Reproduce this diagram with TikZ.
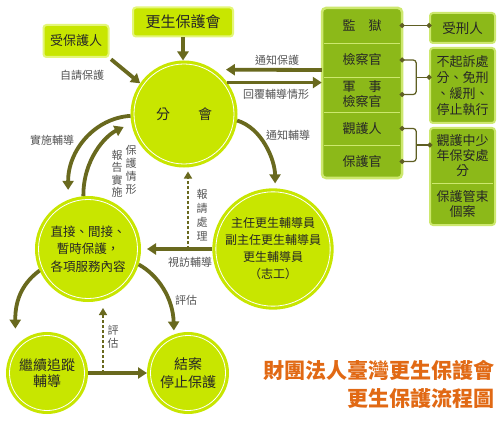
\documentclass[tikz,border=0pt]{standalone}
\usepackage{fontspec}
\setmainfont{Noto Sans CJK TC}
\usetikzlibrary{arrows.meta,calc}

\definecolor{discfill}{RGB}{200,230,0}
\definecolor{tagrim}{RGB}{228,246,120}
\definecolor{leaf}{RGB}{140,185,25}
\definecolor{leafrim}{RGB}{205,232,110}
\definecolor{flowc}{RGB}{105,105,30}
\definecolor{linkc}{RGB}{95,95,35}
\definecolor{labelc}{RGB}{85,85,85}
\definecolor{titlec}{RGB}{225,105,20}

\tikzset{
  disc/.style={circle, fill=discfill, draw=white, line width=0.8pt,
    preaction={draw=discfill, line width=7pt}, outer sep=3.5pt,
    inner sep=0pt, align=center, text=black!85,
    font=\fontsize{12.5}{17.5}\selectfont},
  tag/.style={rectangle, rounded corners=3pt, fill=discfill, draw=tagrim,
    line width=2pt, text=black!85, font=\fontsize{13}{15}\selectfont},
  leafbox/.style={rectangle, rounded corners=3pt, fill=leaf, draw=leafrim,
    line width=2pt, minimum width=65pt, inner sep=0pt, align=center,
    text=black!85, font=\fontsize{13}{16}\selectfont},
  row/.style={minimum width=80pt, inner sep=0pt, align=center,
    text=black!85, font=\fontsize{13}{15}\selectfont},
  flow/.style={draw=flowc, line width=3.8pt, -{Triangle[length=9pt,width=11pt]}},
  hint/.style={draw=flowc, line width=1.6pt, densely dashed,
    -{Triangle[length=7pt,width=8pt]}},
  link/.style={draw=linkc, line width=1.2pt, shorten <=-2.5pt, shorten >=-2.5pt,
    {Circle[length=5pt]}-{Circle[length=5pt]}},
  stub/.style={draw=linkc, line width=1.2pt, shorten >=-2.5pt,
    -{Circle[length=5pt]}},
  note/.style={text=labelc, inner sep=0pt, align=center,
    font=\fontsize{11}{13}\selectfont},
}

\begin{document}
\begin{tikzpicture}[x=1pt, y=-1pt]
\fill[white] (0,0) rectangle (500,422);
\useasboundingbox (0,0) rectangle (500,422);

\node[tag, minimum width=65pt, minimum height=32pt] (ward) at (76,41) {受保護人};
\node[tag, minimum width=100pt, minimum height=29pt,
  font=\fontsize{15}{17}\selectfont] (assoc) at (183,22) {更生保護會};

\node[disc, minimum size=100pt, font=\fontsize{14}{16}\selectfont]
  (hub) at (184,114) {分\hspace{28pt}會};
\node[disc, minimum size=99pt] (care) at (88,249)
  {直接、間接、\\暫時保護，\\各項服務內容};
\node[disc, minimum size=99pt, font=\fontsize{12}{17}\selectfont] (staff) at (273,249)
  {主任更生輔導員\\副主任更生輔導員\\更生輔導員\\（志工）};
\node[disc, minimum size=75pt, font=\fontsize{14}{16}\selectfont]
  (follow) at (47,373) {繼續追蹤\\輔導};
\node[disc, minimum size=75pt, font=\fontsize{14}{18}\selectfont]
  (close) at (188,373) {結案\\停止保護};

\draw[fill=leaf, draw=leafrim, line width=2.5pt, rounded corners=4pt]
  (322,8) rectangle (402,178);
\node[row, minimum height=35pt] (prison) at (362,25.5) {監　獄};
\node[row, minimum height=34pt] (prosec) at (362,60) {檢察官};
\node[row, minimum height=35pt] (milpro) at (362,94.5) {軍　事\\檢察官};
\node[row, minimum height=33pt] (probof) at (362,128.5) {觀護人};
\node[row, minimum height=33pt] (protof) at (362,161.5) {保護官};
\foreach \r in {prison,prosec,milpro,probof}
  \draw[leafrim, line width=1pt, shorten <=2pt, shorten >=2pt]
    (\r.south west) -- (\r.south east);

\node[leafbox, minimum height=30pt, font=\fontsize{13.5}{15}\selectfont]
  (sentenced) at (462.5,28) {受刑人};
\node[leafbox, minimum height=75pt] (dismiss) at (462.5,85.5)
  {不起訴處\\分、免刑\\、緩刑、\\停止執行};
\draw[fill=leaf, draw=leafrim, line width=2pt, rounded corners=3pt]
  (430,128) rectangle (495,225);
\node[row, minimum width=65pt, minimum height=55pt] (juven) at (462.5,155.5)
  {觀護中少\\年保安處\\分};
\node[row, minimum width=65pt, minimum height=42pt] (custody) at (462.5,204)
  {保護管束\\個案};
\draw[leafrim, line width=1pt, shorten <=2pt, shorten >=2pt]
  (juven.south west) -- (juven.south east);

\draw[link] (prison.east) -- (prison.east -| sentenced.west);
\draw[link, rounded corners=3pt] (prosec.east) -- ++(14,0) |- (milpro.east);
\draw[link, rounded corners=3pt] (probof.east) -- ++(14,0) |- (protof.east);
\coordinate (j1) at ($(prosec.east)!.5!(milpro.east)+(14,0)$);
\coordinate (j2) at ($(probof.east)!.5!(protof.east)+(14,0)$);
\draw[stub] (j1) -- (j1 -| dismiss.west);
\draw[stub] (j2) -- (j2 -| juven.west);

\draw[flow, shorten <=2pt] (ward.south east) -- (hub.145);
\draw[flow] (assoc.south) -- (assoc.south |- hub.north);
\draw[flow, shorten >=12pt] ([yshift=-10pt]prosec.west) -- (hub.56);
\draw[flow] (hub.36) -- (hub.36 -| prosec.west);

\draw[flow, shorten >=10pt] (hub.182) .. controls (95,118) and (68,150) .. (care.112);
\draw[flow, shorten >=8.5pt] (care.95) .. controls (83,160) and (105,136) .. (hub.190);
\draw[flow, shorten >=5pt] (hub.353) .. controls (262,128) and (275,160) .. (staff.88);
\draw[flow, shorten >=18pt] (care.204) .. controls (24,282) and (15,298) .. (follow.140);
\draw[flow, shorten >=4pt] (care.343) .. controls (158,275) and (173,298) .. (close.110);

\draw[flow, shorten >=6pt] (staff.west) -- (care.east);
\coordinate (ask) at (188,249);
\draw[hint, shorten >=4pt] (ask) -- (ask |- hub.south);
\draw[flow] (follow.east) -- (close.west);
\coordinate (recheck) at (103,373);
\draw[hint, shorten >=6pt] (recheck) -- (recheck |- care.south);

\node[note] at (82,75) {自請保護};
\node[note] at (277,60) {通知保護};
\node[note] at (276,94) {回覆輔導情形};
\node[note] at (288,135) {通知輔導};
\node[note] at (52,140) {實施輔導};
\node[note, font=\fontsize{11}{12.5}\selectfont] at (117,174) {報\\告\\實\\施};
\node[note, font=\fontsize{11}{13}\selectfont] at (131,170) {保\\護\\情\\形};
\node[note, font=\fontsize{11}{14}\selectfont] at (202,215) {報\\請\\處\\理};
\node[note] at (190,262) {視訪輔導};
\node[note] at (186,300) {評估};
\node[note] at (113,337) {評\\估};

\node[anchor=east, inner sep=0pt, align=right, text=titlec,
  font=\bfseries\fontsize{21}{28}\selectfont] at (495,384)
  {財團法人臺灣更生保護會\\更生保護流程圖};
\end{tikzpicture}
\end{document}
